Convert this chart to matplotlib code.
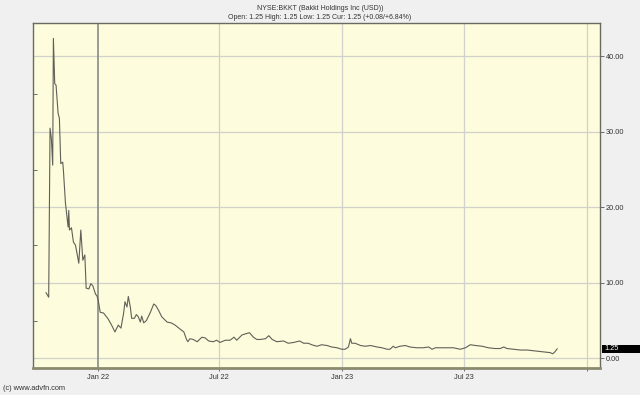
import matplotlib
matplotlib.use("Agg")
import matplotlib.pyplot as plt
import matplotlib.patches as mpatches
import matplotlib.transforms as mtransforms
import numpy as np
import pandas as pd

plt.rcParams['font.family'] = ['Liberation Sans', 'DejaVu Sans']

# BKKT closing prices
dates = [
    "2021-10-15", "2021-10-19", "2021-10-21", "2021-10-23", "2021-10-25", "2021-10-26",
    "2021-10-28", "2021-10-30", "2021-11-02", "2021-11-04", "2021-11-06", "2021-11-09",
    "2021-11-10", "2021-11-13", "2021-11-17", "2021-11-18", "2021-11-19", "2021-11-22",
    "2021-11-25", "2021-11-28", "2021-12-03", "2021-12-06", "2021-12-09", "2021-12-12",
    "2021-12-14", "2021-12-18", "2021-12-21", "2021-12-24", "2021-12-28", "2021-12-30",
    "2022-01-01", "2022-01-04", "2022-01-09", "2022-01-16", "2022-01-21", "2022-01-26",
    "2022-01-31", "2022-02-04", "2022-02-08", "2022-02-10", "2022-02-13", "2022-02-15",
    "2022-02-18", "2022-02-20", "2022-02-24", "2022-02-27", "2022-03-02", "2022-03-05",
    "2022-03-07", "2022-03-10", "2022-03-14", "2022-03-20", "2022-03-25", "2022-03-28",
    "2022-04-01", "2022-04-06", "2022-04-14", "2022-04-20", "2022-04-26", "2022-05-03",
    "2022-05-09", "2022-05-13", "2022-05-15", "2022-05-18", "2022-05-23", "2022-05-29",
    "2022-06-05", "2022-06-10", "2022-06-15", "2022-06-22", "2022-06-27", "2022-07-02",
    "2022-07-10", "2022-07-17", "2022-07-23", "2022-07-27", "2022-08-04", "2022-08-15",
    "2022-08-21", "2022-08-26", "2022-08-31", "2022-09-08", "2022-09-13", "2022-09-18",
    "2022-09-25", "2022-10-05", "2022-10-12", "2022-10-20", "2022-10-29", "2022-11-04",
    "2022-11-11", "2022-11-16", "2022-11-24", "2022-12-01", "2022-12-09", "2022-12-16",
    "2022-12-24", "2022-12-31", "2023-01-05", "2023-01-10", "2023-01-13", "2023-01-15",
    "2023-01-20", "2023-01-28", "2023-02-04", "2023-02-12", "2023-02-17", "2023-02-22",
    "2023-03-01", "2023-03-09", "2023-03-13", "2023-03-18", "2023-03-21", "2023-03-28",
    "2023-04-05", "2023-04-12", "2023-04-22", "2023-05-02", "2023-05-10", "2023-05-15",
    "2023-05-20", "2023-06-01", "2023-06-16", "2023-06-26", "2023-07-04", "2023-07-11",
    "2023-07-19", "2023-07-29", "2023-08-07", "2023-08-17", "2023-08-25", "2023-08-30",
    "2023-09-04", "2023-09-14", "2023-09-24", "2023-10-04", "2023-10-14", "2023-10-24",
    "2023-11-03", "2023-11-08", "2023-11-11", "2023-11-14", "2023-11-18",
]
prices = [
    8.7, 8.1, 30.5, 29.1, 25.6, 42.4,
    36.4, 36.2, 32.5, 31.8, 25.8, 26.0,
    24.9, 20.6, 17.4, 19.6, 17.0, 17.3,
    15.4, 15.0, 12.6, 17.0, 13.0, 13.7,
    9.3, 9.2, 9.9, 9.6, 8.5, 8.3,
    7.7, 6.1, 6.0, 5.2, 4.4, 3.5,
    4.4, 4.0, 6.0, 7.5, 6.8, 8.2,
    6.8, 5.3, 5.3, 5.8, 5.5, 4.8,
    5.6, 4.7, 5.0, 6.1, 7.2, 7.0,
    6.4, 5.5, 4.8, 4.7, 4.4, 3.9,
    3.5, 2.5, 2.2, 2.6, 2.5, 2.2,
    2.8, 2.7, 2.3, 2.2, 2.4, 2.1,
    2.4, 2.4, 2.8, 2.4, 3.1, 3.4,
    2.8, 2.5, 2.5, 2.6, 3.0, 2.5,
    2.2, 2.3, 2.0, 2.1, 2.3, 2.0,
    2.0, 1.8, 1.6, 1.8, 1.7, 1.5,
    1.4, 1.2, 1.2, 1.5, 2.6, 2.0,
    2.0, 1.7, 1.6, 1.7, 1.6, 1.5,
    1.4, 1.2, 1.2, 1.6, 1.4, 1.6,
    1.7, 1.5, 1.4, 1.4, 1.5, 1.2,
    1.4, 1.4, 1.4, 1.2, 1.4, 1.8,
    1.7, 1.6, 1.4, 1.3, 1.3, 1.5,
    1.3, 1.2, 1.1, 1.1, 1.0, 0.9,
    0.8, 0.75, 0.6, 0.8, 1.25,
]
y_ticks = [0, 10, 20, 30, 40]
x_ticks = ["2022-01-01", "2022-07-01", "2023-01-01", "2023-07-01", "2024-01-01"]
x_labels = ["Jan 22", "Jul 22", "Jan 23", "Jul 23", ""]
current = 1.25

x = pd.to_datetime(dates)
xt = pd.to_datetime(x_ticks)

fig = plt.figure(figsize=(6.4, 3.95), dpi=100, facecolor='#f0f0f0')
ax = fig.add_axes([0.051, 0.068, 0.8865, 0.875])
ax.set_facecolor('#fdfcdc')

ax.plot(x, prices, color='#606058', lw=0.8, zorder=3)

ax.set_xlim(pd.Timestamp("2021-09-25"), pd.Timestamp("2024-01-21"))
ax.set_ylim(-1.3, 44.5)

# grid, the year line is darker
for i, t in enumerate(xt):
    if i == 0:
        ax.axvline(t, color='#8a8a8a', lw=1.2, zorder=2)
    else:
        ax.axvline(t, color='#d2d2cc', lw=0.9, zorder=1)
for v in y_ticks:
    ax.axhline(v, color='#d2d2cc', lw=0.9, zorder=1)

ax.yaxis.tick_right()
ax.set_yticks(y_ticks)
ax.set_yticklabels([f"{v:.2f}" for v in y_ticks], fontsize=5.3)
ax.tick_params(axis='y', which='major', length=3, width=0.6, pad=1, colors='#555555', labelcolor='#333333')
ax.set_yticks(np.arange(5, 45, 10), minor=True)
ax.tick_params(axis='y', which='minor', left=True, right=False, length=3, width=0.6, direction='in', colors='#555555')

ax.set_xticks(xt)
ax.set_xticklabels(x_labels, fontsize=5.3)
ax.tick_params(axis='x', length=2, width=0.6, pad=2, colors='#555555', labelcolor='#333333')

for side in ['left', 'right', 'top']:
    ax.spines[side].set_color('#6a6a60')
    ax.spines[side].set_linewidth(1.0)
ax.spines['bottom'].set_color('#8a8a70')
ax.spines['bottom'].set_linewidth(2.0)

# current price box, runs from the axis to the edge of the picture
trans = mtransforms.blended_transform_factory(ax.transAxes, ax.transData)
box = mpatches.Rectangle((1.003, current - 0.55), 0.07, 1.1, transform=trans,
                         facecolor='black', edgecolor='none', clip_on=False, zorder=5)
ax.add_patch(box)
ax.text(1.008, current, f"{current:.2f}", transform=trans, ha='left', va='center',
        fontsize=5.3, color='white', zorder=6)

fig.text(0.5, 0.988, "NYSE:BKKT (Bakkt Holdings Inc (USD))", ha='center', va='top',
         fontsize=5, color='#333333')
fig.text(0.5, 0.964, "Open: 1.25 High: 1.25 Low: 1.25 Cur: 1.25 (+0.08/+6.84%)",
         ha='center', va='top', fontsize=5, color='#333333')
fig.text(0.004, 0.008, "(c) www.advfn.com", ha='left', va='bottom', fontsize=5.3, color='#333333')

fig.savefig("out.png", dpi=100, facecolor=fig.get_facecolor())
